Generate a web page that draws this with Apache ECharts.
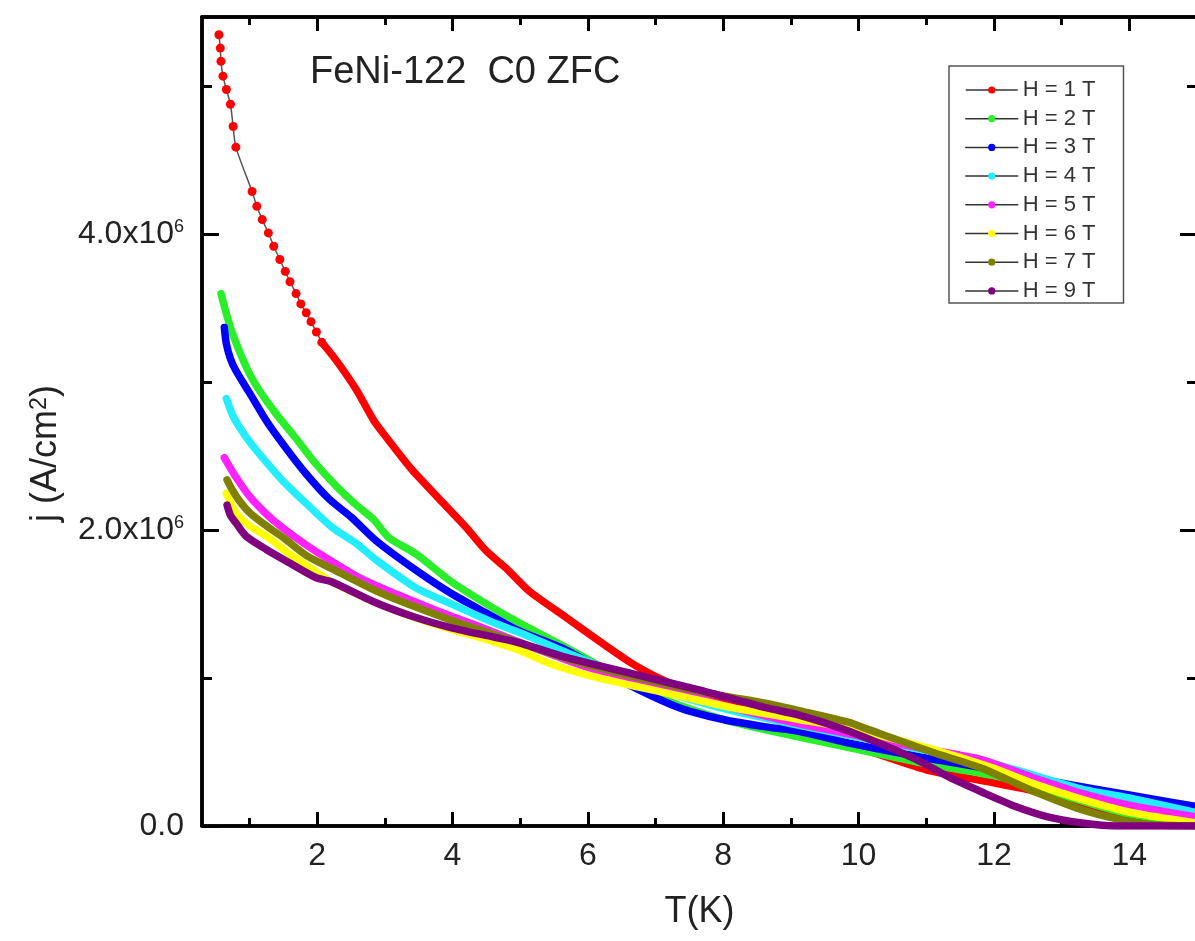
<!DOCTYPE html>
<html>
<head>
<meta charset="utf-8">
<script src="https://cdn.jsdelivr.net/npm/echarts@6/dist/echarts.min.js"></script>
<style>
html,body{margin:0;padding:0;background:#fff;}
#c{width:1195px;height:941px;}
</style>
</head>
<body>
<div id="c"></div>
<script>
// ---- data (T in K, j in units of 10^6 A/cm^2) ----
const seriesNames = ['H = 1 T','H = 2 T','H = 3 T','H = 4 T','H = 5 T','H = 6 T','H = 7 T','H = 9 T'];
const seriesColors = ['#ff0000','#2aee2a','#0000ff','#22eeff','#ff22ff','#ffff00','#808000','#800080'];

const h1 = [[0.55,5.35],[0.57,5.26],[0.58,5.17],[0.61,5.07],[0.66,4.98],[0.72,4.88],[0.76,4.73],[0.80,4.59],
  [1.04,4.29],[1.11,4.19],[1.19,4.10],[1.28,4.01],[1.36,3.92],[1.45,3.83],[1.53,3.75],[1.60,3.68],[1.69,3.60],
  [1.76,3.53],[1.84,3.47],[1.91,3.41],[1.99,3.34],[2.07,3.27],[2.28,3.15],[2.58,2.95],[2.84,2.74],[3.02,2.63],
  [3.40,2.41],[3.85,2.19],[4.20,2.02],[4.50,1.86],[4.80,1.74],[5.13,1.59],[5.68,1.41],[6.17,1.25],[6.65,1.10],
  [7.05,1.00],[7.35,0.94],[7.75,0.87],[8.04,0.83],[9.00,0.68],[10.0,0.53],[11.0,0.38],[11.9,0.30],[12.56,0.24],
  [13.3,0.14],[14.0,0.06],[15.0,0.01]];
const h2 = [[0.58,3.60],[0.70,3.40],[0.80,3.27],[0.89,3.17],[1.00,3.06],[1.14,2.95],[1.39,2.79],[1.69,2.62],
  [1.98,2.45],[2.28,2.30],[2.58,2.17],[2.84,2.07],[3.06,1.95],[3.46,1.84],[3.99,1.65],[4.58,1.48],[5.00,1.37],
  [5.83,1.17],[6.50,1.00],[7.16,0.85],[8.00,0.72],[8.63,0.65],[9.86,0.53],[11.0,0.42],[12.0,0.34],[13.0,0.21],
  [14.0,0.08],[15.0,0.02]];
const h3 = [[0.63,3.37],[0.66,3.26],[0.72,3.16],[0.80,3.08],[1.00,2.93],[1.25,2.74],[1.50,2.58],[1.84,2.38],
  [2.18,2.21],[2.50,2.09],[2.87,1.93],[3.46,1.73],[3.99,1.57],[4.50,1.44],[4.98,1.32],[5.68,1.19],[6.50,0.98],
  [7.35,0.80],[8.00,0.72],[8.63,0.67],[9.12,0.64],[9.86,0.56],[11.0,0.46],[12.0,0.38],[13.0,0.29],[14.0,0.21],
  [15.0,0.13]];
const h4 = [[0.66,2.89],[0.75,2.78],[0.85,2.70],[1.00,2.60],[1.25,2.46],[1.50,2.33],[1.84,2.18],[2.22,2.02],
  [2.58,1.91],[2.87,1.80],[3.46,1.61],[3.99,1.50],[4.58,1.38],[4.98,1.31],[5.70,1.17],[6.50,1.02],[7.35,0.88],
  [8.13,0.78],[9.12,0.68],[10.0,0.60],[11.0,0.51],[12.0,0.42],[13.3,0.25],[14.0,0.19],[15.0,0.09]];
const h5 = [[0.63,2.49],[0.72,2.42],[0.80,2.36],[1.00,2.23],[1.25,2.11],[1.48,2.02],[1.84,1.90],[2.18,1.80],
  [2.62,1.68],[3.21,1.56],[3.80,1.45],[4.50,1.33],[5.00,1.24],[5.70,1.12],[6.50,1.00],[7.35,0.90],[8.13,0.80],
  [9.12,0.69],[10.0,0.61],[11.0,0.52],[11.8,0.45],[12.56,0.33],[13.3,0.22],[14.0,0.14],[15.0,0.06]];
const h6 = [[0.66,2.25],[0.75,2.16],[0.85,2.09],[1.00,2.03],[1.25,1.96],[1.59,1.84],[1.98,1.72],[2.22,1.65],
  [2.87,1.51],[3.70,1.37],[4.58,1.25],[4.98,1.19],[5.43,1.10],[6.00,1.02],[6.65,0.95],[7.35,0.88],[8.13,0.80],
  [9.12,0.72],[9.86,0.66],[11.0,0.53],[12.0,0.39],[12.56,0.29],[13.3,0.18],[14.04,0.09],[15.0,0.02]];
const h7 = [[0.67,2.34],[0.75,2.27],[0.85,2.20],[1.00,2.12],[1.25,2.03],[1.50,1.95],[1.84,1.83],[2.22,1.74],
  [2.87,1.59],[3.46,1.48],[3.99,1.39],[4.58,1.30],[4.98,1.24],[5.70,1.13],[6.50,1.03],[7.35,0.94],[8.00,0.88],
  [8.63,0.83],[9.12,0.78],[9.86,0.70],[10.1,0.66],[11.08,0.50],[11.82,0.39],[12.56,0.24],[13.3,0.11],
  [13.8,0.05],[14.3,0.01],[15.0,0.00]];
const h9 = [[0.67,2.17],[0.72,2.10],[0.80,2.05],[0.95,1.96],[1.25,1.87],[1.59,1.78],[1.98,1.68],[2.22,1.65],
  [2.87,1.51],[3.46,1.41],[3.99,1.34],[4.58,1.28],[4.98,1.24],[5.68,1.14],[6.65,1.03],[7.64,0.92],[8.63,0.80],
  [9.12,0.75],[9.86,0.64],[10.85,0.45],[11.34,0.33],[11.82,0.23],[12.33,0.13],[12.81,0.06],[13.3,0.02],
  [13.8,0.00],[15.0,0.00]];
const seriesData = [h1,h2,h3,h4,h5,h6,h7,h9];
// below this temperature the 1 T points are seen as separate dots on a thin line
const H1_DOTTED_UNTIL = 2.07;

// ---- ticks ----
const xMajorTicks = [2,4,6,8,10,12,14];
const xMinorTicks = [1,3,5,7,9,11,13,15];
const yMajorTicks = [0,2,4];
const yMinorTicks = [1,3,5];
const X_MIN = 0.3, X_MAX = 15, Y_MIN = 0, Y_MAX = 5.47;

const titleText = 'FeNi-122  C0 ZFC';
const xName = 'T(K)';
const yName = 'j (A/cm{sup|2})';

const FONT = '"Liberation Sans", Arial, sans-serif';
const TXT = '#222';

function mkX(position, ticks, len, withLabels, name) {
  return {
    type: 'value', position: position, min: X_MIN, max: X_MAX,
    name: name || '', nameLocation: 'middle', nameGap: 68,
    nameTextStyle: {fontSize: 36, color: TXT, fontFamily: FONT},
    axisLine: {show: true, onZero: false, lineStyle: {color: '#000', width: 3.5}},
    axisTick: {show: true, inside: true, length: len, customValues: ticks, lineStyle: {color: '#000', width: 3}},
    axisLabel: {show: withLabels, customValues: ticks, margin: 14, fontSize: 32, color: TXT, fontFamily: FONT,
      formatter: function (v) { return String(v); }},
    splitLine: {show: false}, minorTick: {show: false}, minorSplitLine: {show: false}
  };
}
function mkY(position, ticks, len, withLabels, name) {
  return {
    type: 'value', position: position, min: Y_MIN, max: Y_MAX,
    name: name || '', nameLocation: 'middle', nameRotate: 90, nameGap: 138,
    nameTextStyle: {fontSize: 36, color: TXT, fontFamily: FONT, padding: [0, 64, 0, 0],
      rich: {sup: {fontSize: 23, fontFamily: FONT, color: TXT, verticalAlign: 'top'}}},
    axisLine: {show: true, onZero: false, lineStyle: {color: '#000', width: 3.5}},
    axisTick: {show: true, inside: true, length: len, customValues: ticks, lineStyle: {color: '#000', width: 3}},
    axisLabel: {show: withLabels, customValues: ticks, margin: 18, fontSize: 32, color: TXT, fontFamily: FONT,
      formatter: function (v) { return v === 0 ? '0.0' : v.toFixed(1) + 'x10{sup|6}'; },
      rich: {sup: {fontSize: 18, fontFamily: FONT, color: TXT, verticalAlign: 'top'}}},
    splitLine: {show: false}, minorTick: {show: false}, minorSplitLine: {show: false}
  };
}

function bandSeries(name, data, color, z) {
  return {
    name: name, type: 'line', data: data, xAxisIndex: 0, yAxisIndex: 0,
    smooth: 0.25,
    symbol: 'circle', symbolSize: 7, showSymbol: false,
    lineStyle: {color: color, width: 7.5, cap: 'round', join: 'round'},
    itemStyle: {color: color, borderWidth: 0},
    z: z, silent: true
  };
}

const series = [];
// H = 1 T : dotted start (thin grey line + red dots) then dense band
const h1Dots = h1.filter(function (p) { return p[0] <= H1_DOTTED_UNTIL; });
const h1Band = h1.filter(function (p) { return p[0] >= H1_DOTTED_UNTIL; });
series.push({
  name: seriesNames[0], type: 'line', data: h1Dots, xAxisIndex: 0, yAxisIndex: 0,
  smooth: 0.25, symbol: 'circle', symbolSize: 9, showSymbol: true,
  lineStyle: {color: '#555', width: 1.5},
  itemStyle: {color: seriesColors[0], borderWidth: 0},
  z: 3, silent: true
});
series.push(bandSeries('', h1Band, seriesColors[0], 2));
for (let i = 1; i < seriesData.length; i++) {
  series.push(bandSeries(seriesNames[i], seriesData[i], seriesColors[i], 2 + i));
}

const chart = echarts.init(document.getElementById('c'), null, {renderer: 'canvas'});
chart.setOption({
  animation: false,
  backgroundColor: '#fff',
  title: {text: titleText, left: 305, top: 49,
    textStyle: {fontSize: 38, fontWeight: 'normal', color: TXT, fontFamily: FONT}},
  grid: {left: 202, right: -2, top: 17, bottom: 115, containLabel: false, outerBoundsMode: 'none'},
  legend: {
    orient: 'vertical', left: 949, top: 66, selectedMode: false,
    data: seriesNames,
    itemWidth: 52, itemHeight: 9, itemGap: 6.7,
    padding: [13, 28, 1, 16],
    borderColor: '#555', borderWidth: 1.5, backgroundColor: '#fff',
    textStyle: {fontSize: 22, lineHeight: 22, color: '#333', fontFamily: FONT},
    lineStyle: {color: '#333', width: 1.5}
  },
  xAxis: [
    mkX('bottom', xMajorTicks, 14, true, xName),
    mkX('bottom', xMinorTicks, 8, false),
    mkX('top', xMajorTicks, 14, false),
    mkX('top', xMinorTicks, 8, false)
  ],
  yAxis: [
    mkY('left', yMajorTicks, 17, true, yName),
    mkY('left', yMinorTicks, 10, false),
    mkY('right', yMajorTicks, 17, false),
    mkY('right', yMinorTicks, 10, false)
  ],
  series: series
});
</script>
</body>
</html>
